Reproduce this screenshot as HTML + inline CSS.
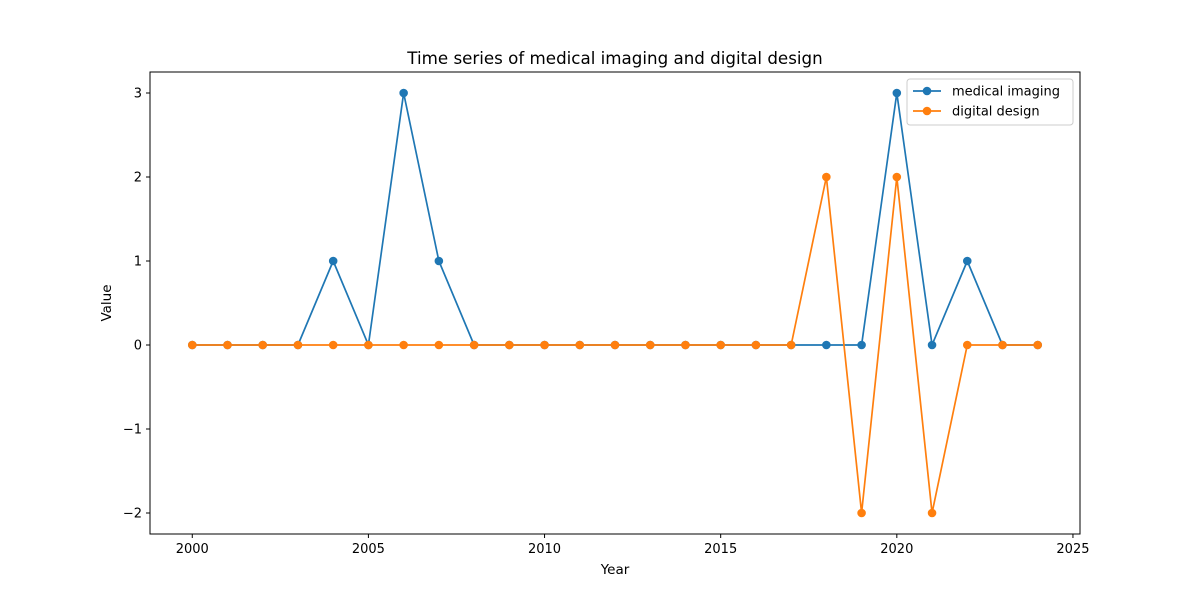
<!DOCTYPE html>
<html><head><meta charset="utf-8"><style>
body{margin:0;background:#fff;font-family:"DejaVu Sans","Liberation Sans",sans-serif;}
svg text{font-family:"DejaVu Sans","Liberation Sans",sans-serif;}
</style></head><body>
<svg id="chart" width="1200" height="600" xmlns="http://www.w3.org/2000/svg">
<rect width="1200" height="600" fill="#fff"/>
<text x="615" y="64" text-anchor="middle" font-size="16.7">Time series of medical imaging and digital design</text>
<text x="615" y="574" text-anchor="middle" font-size="13.5">Year</text>
<text x="111" y="303" text-anchor="middle" font-size="13.5" transform="rotate(-90 111 303)">Value</text>
<g id="plot"></g>
<rect x="150" y="72" width="930" height="462" fill="none" stroke="#000" stroke-width="1"/>
</svg>
<script>
const years = [2000,2001,2002,2003,2004,2005,2006,2007,2008,2009,2010,2011,2012,2013,2014,2015,2016,2017,2018,2019,2020,2021,2022,2023,2024];
const medicalImaging = [0,0,0,0,1,0,3,1,0,0,0,0,0,0,0,0,0,0,0,0,3,0,1,0,0];
const digitalDesign = [0,0,0,0,0,0,0,0,0,0,0,0,0,0,0,0,0,0,2,-2,2,-2,0,0,0];
const xTicks = [2000,2005,2010,2015,2020,2025];
const yTicks = [-2,-1,0,1,2,3];
const seriesNames = ["medical imaging","digital design"];

const NS="http://www.w3.org/2000/svg";
const X0=150,X1=1080,Y0=72,Y1=534;
const xmin=1998.8,xmax=2025.2,ymin=-2.25,ymax=3.25;
const xs=v=>X0+(v-xmin)/(xmax-xmin)*(X1-X0);
const ys=v=>Y1-(v-ymin)/(ymax-ymin)*(Y1-Y0);
const plot=document.getElementById('plot');
function mk(tag,attrs){const e=document.createElementNS(NS,tag);for(const k in attrs)e.setAttribute(k,attrs[k]);plot.appendChild(e);return e;}

xTicks.forEach(t=>{
  const l=mk('line',{x1:xs(t),x2:xs(t),y1:Y1,y2:Y1+4,stroke:'#000'});
  
  
  const tx=mk('text',{x:xs(t),y:Y1+19,'text-anchor':'middle','font-size':'13'});
  tx.textContent=t;
  
  
});
yTicks.forEach(t=>{
  const l=mk('line',{x1:X0-4,x2:X0,y1:ys(t),y2:ys(t),stroke:'#000'});
  
  
  const tx=mk('text',{x:X0-8,y:ys(t)+4.5,'text-anchor':'end','font-size':'13'});
  tx.textContent=t<0?'\u2212'+Math.abs(t):t;
  
  
});

function series(vals,color,name){
  const p=mk('polyline',{points:years.map((y,i)=>xs(y)+','+ys(vals[i])).join(' '),fill:'none',stroke:color,'stroke-width':1.7});
  
  
  years.forEach((y,i)=>{
    const c=mk('circle',{cx:xs(y),cy:ys(vals[i]),r:4.3,fill:color});
    
    
  });
}
series(medicalImaging,'#1f77b4','medical-imaging');
series(digitalDesign,'#ff7f0e','digital-design');

const lg=mk('rect',{x:907,y:79,width:166,height:46,fill:'#fff',stroke:'#ccc',rx:3});


[['#1f77b4',seriesNames[0]],['#ff7f0e',seriesNames[1]]].forEach((s,i)=>{
  const yy=91+i*20;
  const l=mk('line',{x1:913,x2:941,y1:yy,y2:yy,stroke:s[0],'stroke-width':1.7});
  
  
  const c=mk('circle',{cx:927,cy:yy,r:4.3,fill:s[0]});
  
  
  const t=mk('text',{x:952,y:yy+4.5,'font-size':'13'});
  t.textContent=s[1];
  
  
});
</script>
</body></html>
